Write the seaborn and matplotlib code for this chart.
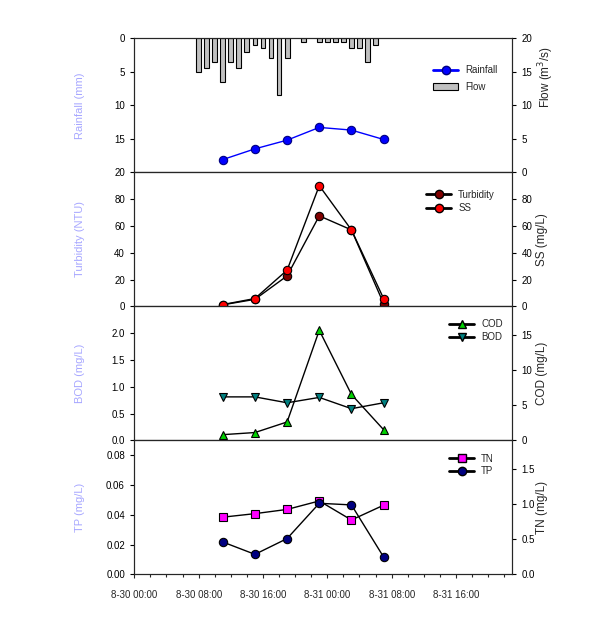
import matplotlib
matplotlib.use("Agg")
import matplotlib.pyplot as plt
import seaborn as sns
from matplotlib.lines import Line2D
from matplotlib.patches import Patch
from matplotlib.ticker import FixedLocator, MultipleLocator, FormatStrFormatter

# ---------------- data (hours since 8-30 00:00) ----------------
bar_hours = [8, 9, 10, 11, 12, 13, 14, 15, 16, 17, 18, 19, 21, 23, 24, 25, 26, 27, 28, 29, 30]
bar_values = [5.0, 4.5, 3.5, 6.5, 3.5, 4.5, 2.0, 1.0, 1.5, 3.0, 8.5, 3.0, 0.5, 0.5, 0.5, 0.5, 0.5, 1.5, 1.5, 3.5, 1.0]

sample_hours = [11, 15, 19, 23, 27, 31]
line_flow = [1.9, 3.5, 4.8, 6.7, 6.3, 4.9]
turbidity = [1.1, 5.2, 22.7, 67.5, 57.0, 2.0]
ss = [1.3, 5.8, 27.0, 90.0, 57.0, 5.8]
cod = [0.8, 1.1, 2.6, 15.6, 6.5, 1.5]
bod = [0.81, 0.81, 0.70, 0.80, 0.59, 0.70]
tn = [0.81, 0.86, 0.92, 1.04, 0.77, 0.98]
tp = [0.0217, 0.0134, 0.024, 0.0477, 0.0466, 0.0116]

x_tick_hours = [0, 8, 16, 24, 32, 40]
x_tick_labels = ["8-30 00:00", "8-30 08:00", "8-30 16:00", "8-31 00:00", "8-31 08:00", "8-31 16:00"]

# ---------------- style ----------------
sns.set_style("ticks")
plt.rcParams["font.family"] = ["Liberation Sans", "DejaVu Sans"]
plt.rcParams["axes.linewidth"] = 0.8

FS = 7
fig = plt.figure(figsize=(5.97, 6.17), dpi=100)
L, W, H = 134.3 / 597, 378 / 597, 134 / 617
tops = [38.3, 172.3, 306.3, 440.3]
axes = [fig.add_axes([L, 1 - (t + 134) / 617, W, H]) for t in tops]


def style_y(ax, side, ticks, fmt=None):
    ax.yaxis.set_major_locator(FixedLocator(ticks))
    if fmt:
        ax.yaxis.set_major_formatter(FormatStrFormatter(fmt))
    if side == "left":
        ax.yaxis.tick_left()
    else:
        ax.yaxis.tick_right()
    ax.tick_params(axis="y", direction="out", length=3.2, width=0.8, labelsize=FS, pad=3.5,
                   colors="black")


def style_x(ax, bottom):
    ax.set_xlim(0, 47)
    ax.set_xlabel("")
    if bottom:
        ax.xaxis.set_major_locator(FixedLocator(x_tick_hours))
        ax.set_xticklabels(x_tick_labels)
        ax.xaxis.set_minor_locator(MultipleLocator(2))
        ax.tick_params(axis="x", which="major", direction="out", length=3.2, width=0.8,
                       labelsize=FS, pad=8, bottom=True, labelbottom=True)
        ax.tick_params(axis="x", which="minor", direction="out", length=2, width=0.8,
                       bottom=True)
    else:
        ax.tick_params(axis="x", which="both", bottom=False, labelbottom=False,
                       top=False, labeltop=False)


def right_label(ax, text, y=0.5):
    ax.set_ylabel(text, fontsize=8.5, rotation=90)
    ax.yaxis.set_label_position("right")
    ax.yaxis.label.set_rotation(90)
    ax.yaxis.set_label_coords(1.063, y)


def left_label(ax, text):
    ax.set_ylabel(text, fontsize=8, color="blue", alpha=0.35)
    ax.yaxis.set_label_position("left")
    ax.yaxis.set_label_coords(-0.13, 0.5)


def add_legend(ax, handles, labels, anchor, spacing):
    leg = ax.legend(handles=handles, labels=labels, loc="upper left", bbox_to_anchor=anchor,
                    frameon=False, fontsize=FS, handlelength=2.6, handletextpad=0.7,
                    borderpad=0, borderaxespad=0, labelspacing=spacing)
    return leg


line_kw = dict(linewidth=1.0, markersize=6, markeredgecolor="black", markeredgewidth=0.8)

# ---------------- panel 1: bars (inverted) + blue line ----------------
ax1 = axes[0]
sns.barplot(x=bar_hours, y=bar_values, native_scale=True, width=0.6, color="#c0c0c0",
            saturation=1, edgecolor="black", linewidth=0.8, errorbar=None, ax=ax1)
ax1r = ax1.twinx()
ax1.set_ylim(20, 0)
style_y(ax1, "left", [0, 5, 10, 15, 20])
left_label(ax1, "Rainfall (mm)")
sns.lineplot(x=sample_hours, y=line_flow, ax=ax1r, color="blue", marker="o",
             markerfacecolor="blue", linewidth=1.0, markersize=6,
             markeredgecolor="#000080", markeredgewidth=0.8)
ax1r.set_ylim(0, 20)
style_y(ax1r, "right", [0, 5, 10, 15, 20])
right_label(ax1r, "Flow (m$^3$/s)", y=0.71)
add_legend(ax1r,
           [Line2D([], [], color="blue", lw=2, marker="o", ms=6, mfc="blue", mec="#000080"),
            Patch(facecolor="#c0c0c0", edgecolor="black", linewidth=0.8)],
           ["Rainfall", "Flow"], (0.79, 0.80), 0.7)

# ---------------- panel 2: Turbidity + SS ----------------
ax2 = axes[1]
sns.lineplot(x=sample_hours, y=turbidity, ax=ax2, color="black", marker="o",
             markerfacecolor="#800000", **line_kw)
ax2r = ax2.twinx()
ax2.set_ylim(0, 100)
style_y(ax2, "left", [0, 20, 40, 60, 80])
left_label(ax2, "Turbidity (NTU)")
sns.lineplot(x=sample_hours, y=ss, ax=ax2r, color="black", marker="o",
             markerfacecolor="#ff0000", **line_kw)
ax2r.set_ylim(0, 100)
style_y(ax2r, "right", [0, 20, 40, 60, 80])
right_label(ax2r, "SS (mg/L)")
add_legend(ax2r,
           [Line2D([], [], color="black", lw=2, marker="o", ms=6, mfc="#800000", mec="black"),
            Line2D([], [], color="black", lw=2, marker="o", ms=6, mfc="#ff0000", mec="black")],
           ["Turbidity", "SS"], (0.772, 0.87), 0.35)

# ---------------- panel 3: BOD + COD ----------------
ax3 = axes[2]
sns.lineplot(x=sample_hours, y=bod, ax=ax3, color="black", marker="v",
             markerfacecolor="#008080", **line_kw)
ax3r = ax3.twinx()
ax3.set_ylim(0, 2.5)
style_y(ax3, "left", [0, 0.5, 1.0, 1.5, 2.0], "%.1f")
left_label(ax3, "BOD (mg/L)")
sns.lineplot(x=sample_hours, y=cod, ax=ax3r, color="black", marker="^",
             markerfacecolor="#00d000", **line_kw)
ax3r.set_ylim(0, 19)
style_y(ax3r, "right", [0, 5, 10, 15])
right_label(ax3r, "COD (mg/L)")
add_legend(ax3r,
           [Line2D([], [], color="black", lw=2, marker="^", ms=6, mfc="#00d000", mec="black"),
            Line2D([], [], color="black", lw=2, marker="v", ms=6, mfc="#008080", mec="black")],
           ["COD", "BOD"], (0.833, 0.905), 0.35)

# ---------------- panel 4: TN (right) + TP (left, drawn on top) ----------------
ax4 = axes[3]
sns.lineplot(x=sample_hours, y=tn, ax=ax4, color="black", marker="s",
             markerfacecolor="#ff00ff", **line_kw)
ax4l = ax4.twinx()
sns.lineplot(x=sample_hours, y=tp, ax=ax4l, color="black", marker="o",
             markerfacecolor="#000080", **line_kw)
ax4.set_ylim(0, 1.9)
style_y(ax4, "right", [0, 0.5, 1.0, 1.5], "%.1f")
right_label(ax4, "TN (mg/L)")
ax4l.set_ylim(0, 0.09)
style_y(ax4l, "left", [0, 0.02, 0.04, 0.06, 0.08], "%.2f")
left_label(ax4l, "TP (mg/L)")
add_legend(ax4l,
           [Line2D([], [], color="black", lw=2, marker="s", ms=6, mfc="#ff00ff", mec="black"),
            Line2D([], [], color="black", lw=2, marker="o", ms=6, mfc="#000080", mec="black")],
           ["TN", "TP"], (0.833, 0.90), 0.25)

for ax in [ax1, ax1r, ax2, ax2r, ax3, ax3r, ax4l]:
    style_x(ax, False)
style_x(ax4, True)

fig.savefig("out.png", dpi=100, facecolor="white")
